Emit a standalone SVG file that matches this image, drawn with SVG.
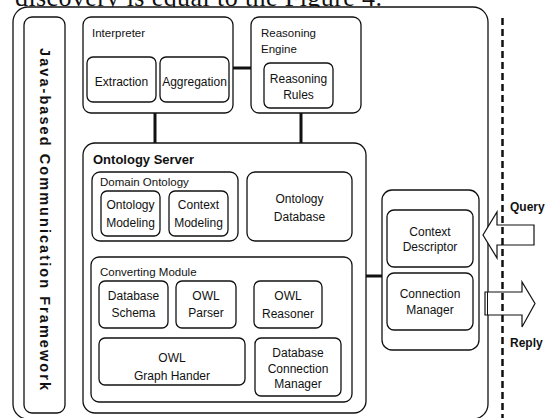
<svg xmlns="http://www.w3.org/2000/svg" width="547" height="418" viewBox="0 0 547 418">
<style>
.bx{fill:#fff;stroke:#111;stroke-width:1.3}
.t{font-family:"Liberation Sans",Arial,sans-serif;font-size:12px;fill:#111;text-anchor:middle}
.tl{font-family:"Liberation Sans",Arial,sans-serif;font-size:11.5px;fill:#111}
.tb{font-family:"Liberation Sans",Arial,sans-serif;font-weight:bold;fill:#111}
.c{stroke:#111;stroke-width:3;fill:none}
.ar{fill:#fff;stroke:#111;stroke-width:1.2}
</style>
<rect width="547" height="418" fill="#fff"/>
<text x="15" y="5.5" font-family="'Liberation Serif','Times New Roman',serif" font-size="26" textLength="367" fill="#111">discovery is equal to the Figure 4.</text>

<g id="framework">
<rect class="bx" x="13" y="7" width="475" height="412" rx="15"/>
</g>
<g id="java-comm">
<rect class="bx" x="24" y="17" width="41" height="396" rx="8"/>
<text class="tb" font-size="14.5" text-anchor="middle" transform="translate(39.5,219) rotate(90)" x="0" y="0" textLength="342">Java-based Communication Framework</text>
</g>

<g id="interpreter">
<rect class="bx" x="83" y="17" width="150" height="96" rx="8"/>
<text class="tl" x="92" y="36.5">Interpreter</text>
</g>
<g id="extraction">
<rect class="bx" x="87" y="57" width="69" height="45" rx="6"/>
<text class="t" x="121.5" y="85.5">Extraction</text>
</g>
<g id="aggregation">
<rect class="bx" x="160" y="57" width="69" height="45" rx="6"/>
<text class="t" x="194.5" y="85.5">Aggregation</text>
</g>

<g id="reasoning-engine">
<rect class="bx" x="251" y="17" width="110" height="96" rx="8"/>
<text class="tl" x="261" y="37">Reasoning</text>
<text class="tl" x="261" y="53">Engine</text>
</g>
<g id="reasoning-rules">
<rect class="bx" x="264" y="63" width="69" height="45" rx="6"/>
<text class="t" x="298.5" y="83">Reasoning</text>
<text class="t" x="298.5" y="99">Rules</text>
</g>

<g id="ontology-server">
<rect class="bx" x="83" y="143" width="283" height="270" rx="12"/>
<text class="tb" font-size="13" x="93" y="164">Ontology Server</text>
</g>
<g id="domain-ontology">
<rect class="bx" x="92" y="172" width="146" height="69" rx="8"/>
<text class="tl" font-size="10.5" x="100" y="186">Domain Ontology</text>
</g>
<g id="ontology-modeling">
<rect class="bx" x="101" y="191" width="59" height="45" rx="6"/>
<text class="t" x="130.5" y="209">Ontology</text>
<text class="t" x="130.5" y="227">Modeling</text>
</g>
<g id="context-modeling">
<rect class="bx" x="169" y="191" width="59" height="45" rx="6"/>
<text class="t" x="198.5" y="209">Context</text>
<text class="t" x="198.5" y="227">Modeling</text>
</g>
<g id="ontology-database">
<rect class="bx" x="247" y="172" width="105" height="69" rx="8"/>
<text class="t" x="299.5" y="203">Ontology</text>
<text class="t" x="299.5" y="221">Database</text>
</g>

<g id="converting-module">
<rect class="bx" x="91" y="257" width="261" height="145" rx="8"/>
<text class="tl" x="100" y="276">Converting Module</text>
</g>
<g id="database-schema">
<rect class="bx" x="99" y="281" width="69" height="47" rx="6"/>
<text class="t" x="133.5" y="300">Database</text>
<text class="t" x="133.5" y="317">Schema</text>
</g>
<g id="owl-parser">
<rect class="bx" x="176" y="281" width="60" height="47" rx="6"/>
<text class="t" x="206" y="300">OWL</text>
<text class="t" x="206" y="317">Parser</text>
</g>
<g id="owl-reasoner">
<rect class="bx" x="254" y="281" width="68" height="47" rx="6"/>
<text class="t" x="288" y="300">OWL</text>
<text class="t" x="288" y="318">Reasoner</text>
</g>
<g id="owl-graph-hander">
<rect class="bx" x="99" y="338" width="146" height="47" rx="6"/>
<text class="t" x="172" y="362">OWL</text>
<text class="t" x="172" y="380">Graph Hander</text>
</g>
<g id="db-connection-manager">
<rect class="bx" x="255" y="338" width="86" height="58" rx="6"/>
<text class="t" x="298" y="357">Database</text>
<text class="t" x="298" y="372.5">Connection</text>
<text class="t" x="298" y="388">Manager</text>
</g>

<g id="communication-module">
<rect class="bx" x="382" y="190" width="97" height="160" rx="10"/>
</g>
<g id="context-descriptor">
<rect class="bx" x="387" y="210" width="86" height="57" rx="7"/>
<text class="t" x="430" y="235.5">Context</text>
<text class="t" x="430" y="251">Descriptor</text>
</g>
<g id="connection-manager">
<rect class="bx" x="387" y="273" width="86" height="57" rx="7"/>
<text class="t" x="430" y="297.5">Connection</text>
<text class="t" x="430" y="314">Manager</text>
</g>

<g id="connectors">
<line class="c" x1="233" y1="68" x2="251" y2="68"/>
<line class="c" x1="155" y1="113" x2="155" y2="143"/>
<line class="c" x1="301" y1="113" x2="301" y2="143"/>
<line class="c" x1="366" y1="276" x2="382" y2="276"/>
</g>

<g id="query-arrow">
<polygon class="ar" points="483,235 497,212 497,225 534,225 534,245 497,245 497,258"/>
<text class="tb" font-size="12" x="510" y="211">Query</text>
</g>
<g id="reply-arrow">
<polygon class="ar" points="485,292 522,292 522,282 535,303.5 522,327 522,315 485,315"/>
<line x1="487.5" y1="292" x2="487.5" y2="315" stroke="#111" stroke-width="1"/>
<text class="tb" font-size="12" x="510" y="347">Reply</text>
</g>

<g id="boundary">
<line x1="502.5" y1="18" x2="502.5" y2="418" stroke="#111" stroke-width="2.5" stroke-dasharray="7 4"/>
</g>
</svg>
